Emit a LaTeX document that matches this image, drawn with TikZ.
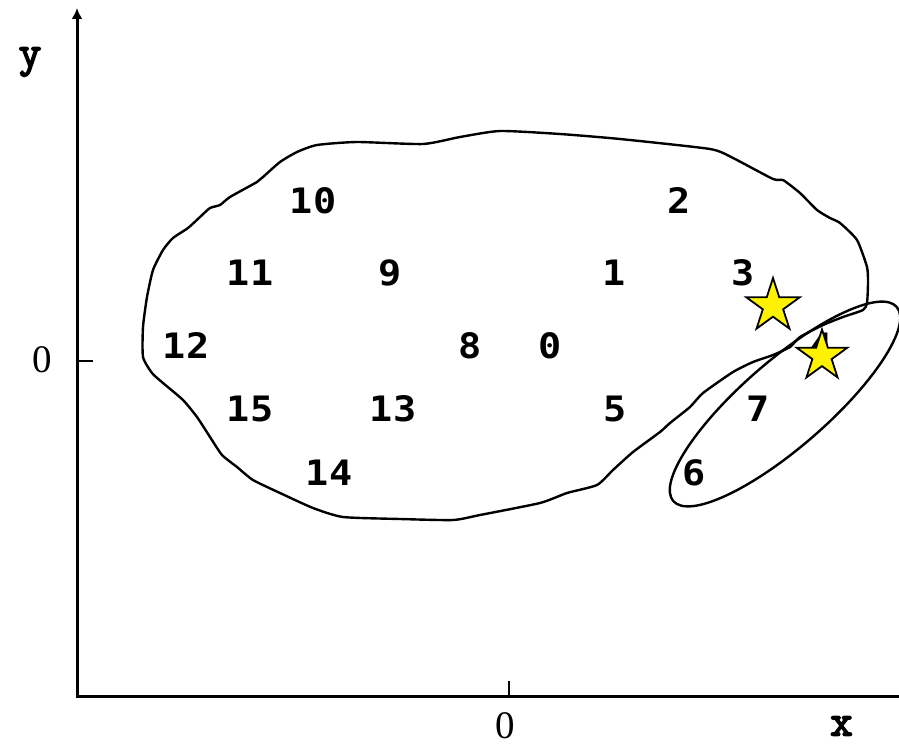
\documentclass[tikz,border=0pt]{standalone}
\usepackage{fontspec}
\usetikzlibrary{shapes.geometric,arrows.meta}
\newfontfamily\numfont[FakeStretch=1.1]{DejaVu Sans Mono}
\newfontfamily\tmfont{Liberation Serif}
\newfontfamily\xyfont[FakeBold=3.5]{Latin Modern Mono}
\tikzset{
  num/.style={inner sep=0pt, font=\numfont\bfseries\fontsize{35}{40}\selectfont},
  axlab/.style={inner sep=0pt, font=\xyfont\fontsize{44}{48}\selectfont},
  tick/.style={inner sep=0pt, font=\tmfont\fontsize{39}{42}\selectfont},
  axis/.style={line width=3pt},
  curve/.style={line width=2.4pt, line join=round},
  mystar/.style={star, star points=5, star point ratio=2.618, minimum size=56pt, inner sep=0pt, draw=black, line width=1.8pt, fill=yellow}
}
\begin{document}
\begin{tikzpicture}[x=1pt,y=-1pt]
\useasboundingbox (0,0) rectangle (899,746);
% axes
\coordinate (O) at (77,696);
\coordinate (ytop) at (77,8);
\coordinate (xend) at (899,696);
\coordinate (xt1) at (509,681);
\coordinate (xt0) at (509,696);
\coordinate (yt0) at (77,360.5);
\coordinate (yt1) at (93,360.5);
\draw[axis, -{Latex[length=11pt,width=11pt]}] (O) -- (ytop);
\draw[axis, line cap=rect] (O) -- (xend);
\draw[line width=2pt] (xt0) -- (xt1);
\draw[line width=2pt] (yt0) -- (yt1);
\node[axlab] (ylab) at (30,62) {y};
\node[axlab] (xlab) at (841.5,726) {x};
\node[tick] (x0) at (505,726) {0};
\node[tick] (y0) at (42.5,360) {0};
% blob
\draw[curve] plot[smooth cycle, tension=0.35] coordinates {
(500,131) (560,134) (620,139) (710,149) (733,158) (773,179) (783,180)
(800,193) (817,210) (830,218) (840,223) (857,240) (867,267) (868,283)
(867,303) (863,310) (843,317) (823,325) (800,337) (790,347) (773,355)
(753,362) (733,372) (703,393) (690,407) (670,423) (660,432) (633,452)
(613,470) (597,485) (567,493) (540,503) (480,515) (453,520) (400,519)
(343,517) (313,508) (280,493) (253,480) (237,467) (222,455) (210,437)
(197,417) (183,400) (163,383) (152,373) (143,357) (143,327) (147,297)
(153,270) (163,250) (173,238) (188,228) (200,217) (210,208) (220,205)
(230,197) (257,182) (263,177) (280,162) (297,152) (317,145) (357,142)
(423,144) (460,137)};
% ellipse
\draw[curve, rotate around={41:(785,404)}] (785,404) ellipse [x radius=148pt, y radius=43pt];
% labels
\node[num] (n0) at (550,346) {0};
\node[num] (n1) at (614,273) {1};
\node[num] (n2) at (679,201) {2};
\node[num] (n3) at (743,273) {3};
\node[num] (n4) at (821,346) {4};
\node[num] (n5) at (615,409) {5};
\node[num] (n6) at (694,473) {6};
\node[num] (n7) at (758,409) {7};
\node[num] (n8) at (470,346) {8};
\node[num] (n9) at (390,273) {9};
\node[num] (n10) at (313,201) {10};
\node[num] (n11) at (250,273) {11};
\node[num] (n12) at (186,346) {12};
\node[num] (n13) at (393,409) {13};
\node[num] (n14) at (329,473) {14};
\node[num] (n15) at (250,409) {15};
% stars
\node[mystar] (s1) at (773,306) {};
\node[mystar, minimum size=53pt] (s2) at (822,356) {};
\end{tikzpicture}
\end{document}
